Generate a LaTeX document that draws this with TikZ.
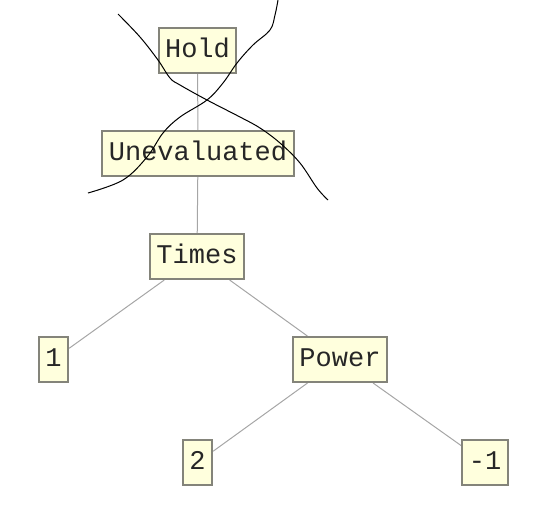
\documentclass[tikz,border=0pt]{standalone}
\usepackage{fontspec}
\newfontfamily\courier{Liberation Mono}
\usepackage{tikz}
\usetikzlibrary{backgrounds}
\definecolor{boxfill}{HTML}{FFFFDD}
\definecolor{boxline}{HTML}{84847A}
\definecolor{edgeline}{HTML}{A6A6A6}
\tikzset{
  expr/.style={rectangle,draw=boxline,line width=2pt,fill=boxfill,
    font=\courier\fontsize{27}{27}\selectfont,text=black!85,
    inner xsep=6.5pt,minimum height=45pt,text height=17pt,text depth=3pt},
  link/.style={-,draw=edgeline,line width=1pt},
  scribble/.style={-,black,line width=1pt}
}
\begin{document}
\begin{tikzpicture}[x=1pt,y=-1pt]
    \useasboundingbox (0,0) rectangle (540,515);

    % Expression tree
    \node[expr] (hold) at (197.5,50) {Hold};
    \node[expr] (uneval) at (198,153.5) {Unevaluated};
    \node[expr] (times) at (197,256.5) {Times};
    \node[expr] (one) at (53.5,359.5) {1};
    \node[expr] (power) at (340,359.5) {Power};
    \node[expr] (two) at (197.5,462.5) {2};
    \node[expr] (minusone) at (485,462.5) {-1};

    % Edges of the tree
    \begin{scope}[on background layer]
    \draw[link] (hold) -- (uneval) -- (times);
    \draw[link] (times) -- (one);
    \draw[link] (times) -- (power);
    \draw[link] (power) -- (two);
    \draw[link] (power) -- (minusone);
    \end{scope}

    % Crossing out
    \draw[scribble] plot[smooth,tension=0.6] coordinates {(118,14) (140,37) (158,60)
        (170,78) (180,85) (207,100) (240,117) (260,128) (280,143) (300,163)
        (317,188) (328,200)};
    \draw[scribble] plot[smooth,tension=0.6] coordinates {(278,0) (275,15) (270,30)
        (253,45) (237,63) (223,83) (207,100) (180,117) (163,133) (147,157)
        (123,180) (88,193)};
\end{tikzpicture}
\end{document}
